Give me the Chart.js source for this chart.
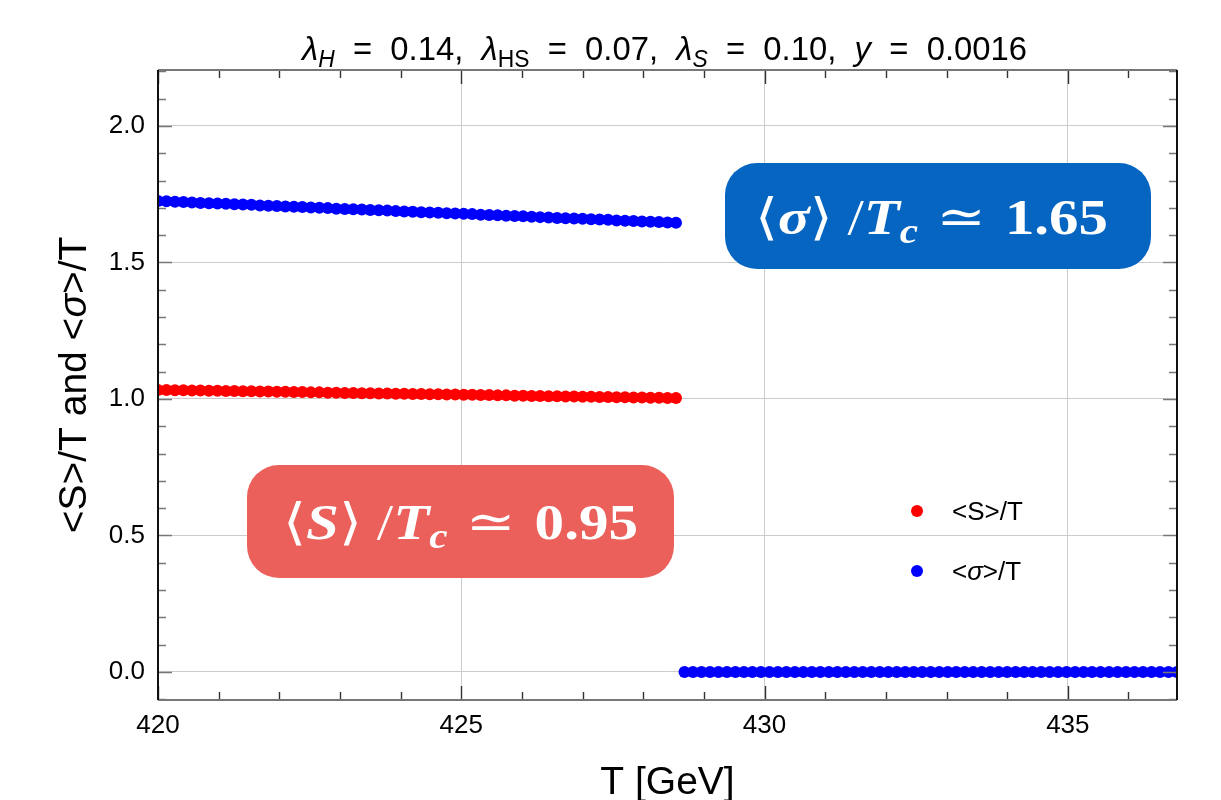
<!DOCTYPE html>
<html>
<head>
<meta charset="utf-8">
<script src="https://cdn.jsdelivr.net/npm/chart.js@4.4.1/dist/chart.umd.min.js"></script>
<style>
  html, body { margin: 0; padding: 0; background: #fff; }
  #wrap { width: 1221px; height: 800px; }
</style>
</head>
<body>
<div id="wrap"><canvas id="vev_chart" width="1221" height="800"></canvas></div>
<script>
// broken phase (T < Tc)
const tBroken = [
  420.00, 420.14, 420.28, 420.42, 420.56, 420.70, 420.84, 420.98, 421.12, 421.26,
  421.40, 421.54, 421.68, 421.82, 421.96, 422.10, 422.24, 422.38, 422.52, 422.66,
  422.80, 422.94, 423.08, 423.22, 423.36, 423.50, 423.64, 423.78, 423.92, 424.06,
  424.20, 424.34, 424.48, 424.62, 424.76, 424.90, 425.04, 425.18, 425.32, 425.46,
  425.60, 425.74, 425.88, 426.02, 426.16, 426.30, 426.44, 426.58, 426.72, 426.86,
  427.00, 427.14, 427.28, 427.42, 427.56, 427.70, 427.84, 427.98, 428.12, 428.26,
  428.40, 428.54
];
const sOverT = [
  1.033, 1.033, 1.032, 1.032, 1.031, 1.031, 1.030, 1.030, 1.029, 1.029,
  1.028, 1.028, 1.027, 1.027, 1.026, 1.026, 1.025, 1.025, 1.024, 1.024,
  1.023, 1.023, 1.022, 1.022, 1.021, 1.021, 1.020, 1.020, 1.019, 1.019,
  1.018, 1.018, 1.017, 1.017, 1.016, 1.016, 1.015, 1.015, 1.014, 1.014,
  1.013, 1.013, 1.012, 1.012, 1.011, 1.011, 1.010, 1.010, 1.009, 1.009,
  1.008, 1.008, 1.007, 1.007, 1.006, 1.006, 1.005, 1.005, 1.004, 1.004,
  1.003, 1.003
];
const sigmaOverT = [
  1.725, 1.724, 1.722, 1.721, 1.720, 1.718, 1.717, 1.716, 1.715, 1.713,
  1.712, 1.711, 1.709, 1.708, 1.707, 1.705, 1.704, 1.703, 1.701, 1.700,
  1.699, 1.697, 1.696, 1.695, 1.694, 1.692, 1.691, 1.690, 1.688, 1.687,
  1.686, 1.684, 1.683, 1.682, 1.680, 1.679, 1.678, 1.677, 1.675, 1.674,
  1.673, 1.671, 1.670, 1.669, 1.667, 1.666, 1.665, 1.663, 1.662, 1.661,
  1.660, 1.658, 1.657, 1.656, 1.654, 1.653, 1.652, 1.650, 1.649, 1.648,
  1.646, 1.645
];
// symmetric phase (T > Tc)
const tSymmetric = [
  428.68, 428.82, 428.96, 429.10, 429.24, 429.38, 429.52, 429.66, 429.80, 429.94,
  430.08, 430.22, 430.36, 430.50, 430.64, 430.78, 430.92, 431.06, 431.20, 431.34,
  431.48, 431.62, 431.76, 431.90, 432.04, 432.18, 432.32, 432.46, 432.60, 432.74,
  432.88, 433.02, 433.16, 433.30, 433.44, 433.58, 433.72, 433.86, 434.00, 434.14,
  434.28, 434.42, 434.56, 434.70, 434.84, 434.98, 435.12, 435.26, 435.40, 435.54,
  435.68, 435.82, 435.96, 436.10, 436.24, 436.38, 436.52, 436.66, 436.80
];
const vevSymmetric = [
  0, 0, 0, 0, 0, 0, 0, 0, 0, 0,
  0, 0, 0, 0, 0, 0, 0, 0, 0, 0,
  0, 0, 0, 0, 0, 0, 0, 0, 0, 0,
  0, 0, 0, 0, 0, 0, 0, 0, 0, 0,
  0, 0, 0, 0, 0, 0, 0, 0, 0, 0,
  0, 0, 0, 0, 0, 0, 0, 0, 0
];
const xTicks = [420, 425, 430, 435];
const yTicks = [0, 0.5, 1.0, 1.5, 2.0];

const RED = "#ff0000";
const BLUE = "#0000ff";

const toPoints = (xs, ys) => xs.map((x, i) => ({ x: x, y: ys[i] }));

// draw a row of text runs (mixed fonts), fitted to a target width
function drawRuns(ctx, runs, x0, baseline, targetW) {
  let w = 0;
  runs.forEach((r) => { ctx.font = r.font; r.w = ctx.measureText(r.text).width; w += r.w; });
  const sx = targetW ? targetW / w : 1;
  ctx.save();
  ctx.translate(x0, baseline);
  ctx.scale(sx, 1);
  let x = 0;
  runs.forEach((r) => {
    ctx.font = r.font;
    ctx.fillText(r.text, x, r.dy || 0);
    x += r.w;
  });
  ctx.restore();
}

function roundBox(ctx, x, y, w, h, r, color) {
  ctx.beginPath();
  ctx.moveTo(x + r, y);
  ctx.lineTo(x + w - r, y);
  ctx.arcTo(x + w, y, x + w, y + r, r);
  ctx.lineTo(x + w, y + h - r);
  ctx.arcTo(x + w, y + h, x + w - r, y + h, r);
  ctx.lineTo(x + r, y + h);
  ctx.arcTo(x, y + h, x, y + h - r, r);
  ctx.lineTo(x, y + r);
  ctx.arcTo(x, y, x + r, y, r);
  ctx.closePath();
  ctx.fillStyle = color;
  ctx.fill();
}

function mathRuns(symbolFont, symbol, value) {
  const S = 50;
  return [
    { text: "\u27E8", font: S + "px 'DejaVu Serif'" },
    { text: symbol, font: symbolFont },
    { text: "\u27E9", font: S + "px 'DejaVu Serif'" },
    { text: " /", font: S + "px 'Liberation Serif'" },
    { text: "T", font: "bold italic " + S + "px 'Liberation Serif'" },
    { text: "c", font: "bold italic 35px 'Liberation Serif'", dy: 9 },
    { text: " \u2243 ", font: S + "px 'DejaVu Serif'" },
    { text: value, font: "bold " + S + "px 'Liberation Serif'" },
  ];
}

const decorations = {
  id: "decorations",
  afterDraw(chart) {
    const ctx = chart.ctx;
    const ca = chart.chartArea;
    const xs = chart.scales.x;
    const ys = chart.scales.y;
    ctx.save();

    // minor / major ticks, pointing inwards
    ctx.lineWidth = 1.4;
    ctx.strokeStyle = "#333";
    ctx.beginPath();
    for (let v = 420; v <= 436; v++) {
      const px = Math.round(xs.getPixelForValue(v)) + 0.5;
      const len = v % 5 === 0 ? 14 : 8;
      ctx.moveTo(px, ca.bottom); ctx.lineTo(px, ca.bottom - len);
      ctx.moveTo(px, ca.top); ctx.lineTo(px, ca.top + len);
    }
    ctx.stroke();
    ctx.strokeStyle = "#777";
    ctx.beginPath();
    for (let k = -1; k <= 22; k++) {
      const py = Math.round(ys.getPixelForValue(k / 10)) + 0.5;
      if (py < ca.top || py > ca.bottom) continue;
      const len = k % 5 === 0 ? 14 : 8;
      ctx.moveTo(ca.left, py); ctx.lineTo(ca.left + len, py);
      ctx.moveTo(ca.right, py); ctx.lineTo(ca.right - len, py);
    }
    ctx.stroke();

    // frame
    ctx.lineWidth = 2;
    ctx.strokeStyle = "#777";
    ctx.beginPath();
    ctx.moveTo(ca.left, ca.bottom); ctx.lineTo(ca.right, ca.bottom);
    ctx.moveTo(ca.left, ca.top); ctx.lineTo(ca.right, ca.top);
    ctx.stroke();
    ctx.strokeStyle = "#111";
    ctx.beginPath();
    ctx.moveTo(ca.left, ca.top); ctx.lineTo(ca.left, ca.bottom);
    ctx.moveTo(ca.right, ca.top); ctx.lineTo(ca.right, ca.bottom);
    ctx.stroke();

    // title
    ctx.fillStyle = "#000";
    ctx.textBaseline = "alphabetic";
    const F = "33px 'Liberation Sans'";
    const FI = "italic 33px 'Liberation Sans'";
    const FS = "23px 'Liberation Sans'";
    const FSI = "italic 23px 'Liberation Sans'";
    drawRuns(ctx, [
      { text: "\u03BB", font: FI }, { text: "H", font: FSI, dy: 7 },
      { text: "  =  0.14,  ", font: F },
      { text: "\u03BB", font: FI }, { text: "HS", font: FS, dy: 7 },
      { text: "  =  0.07,  ", font: F },
      { text: "\u03BB", font: FI }, { text: "S", font: FSI, dy: 7 },
      { text: "  =  0.10,  ", font: F },
      { text: "y", font: FI },
      { text: "  =  0.0016", font: F },
    ], 302, 60, 725);

    // axis titles
    ctx.font = "39px 'Liberation Sans'";
    ctx.textAlign = "center";
    ctx.fillText("T [GeV]", (ca.left + ca.right) / 2, 794);
    ctx.textAlign = "left";
    ctx.save();
    ctx.translate(86, 0);
    ctx.rotate(-Math.PI / 2);
    const yRuns = [
      { text: "<S>/T and <", font: "39px 'Liberation Sans'" },
      { text: "\u03C3", font: "italic 39px 'Liberation Sans'" },
      { text: ">/T", font: "39px 'Liberation Sans'" },
    ];
    let yw = 0;
    yRuns.forEach((r) => { ctx.font = r.font; yw += ctx.measureText(r.text).width; });
    drawRuns(ctx, yRuns, -(ca.top + ca.bottom) / 2 - yw / 2, 0);
    ctx.restore();

    // legend
    const legend = [
      { color: RED, runs: [{ text: "<S>/T", font: "26px 'Liberation Sans'" }] },
      { color: BLUE, runs: [
        { text: "<", font: "26px 'Liberation Sans'" },
        { text: "\u03C3", font: "italic 26px 'Liberation Sans'" },
        { text: ">/T", font: "26px 'Liberation Sans'" }] },
    ];
    legend.forEach((item, i) => {
      const cy = 511 + i * 60;
      ctx.fillStyle = item.color;
      ctx.beginPath();
      ctx.arc(917, cy, 6, 0, Math.PI * 2);
      ctx.fill();
      ctx.fillStyle = "#000";
      drawRuns(ctx, item.runs, 952, cy + 9);
    });

    // annotation boxes
    roundBox(ctx, 725, 163, 426, 106, 32, "#0565c0");
    ctx.fillStyle = "#fff";
    drawRuns(ctx, mathRuns("bold italic 50px 'Liberation Serif'", "\u03C3", "1.65"), 755, 234, 353);

    roundBox(ctx, 247, 465, 427, 113, 32, "#eb605a");
    ctx.fillStyle = "#fff";
    drawRuns(ctx, mathRuns("bold italic 50px 'Liberation Serif'", "S", "0.95"), 283, 539, 355);

    ctx.restore();
  },
};

const ctx = document.getElementById("vev_chart").getContext("2d");

const configuration = {
  type: "scatter",
  data: {
    datasets: [
      {
        label: "<S>/T",
        data: toPoints(tBroken, sOverT),
        backgroundColor: RED,
        borderColor: RED,
        pointRadius: 6,
        borderWidth: 0,
        clip: 0,
      },
      {
        label: "<\u03C3>/T",
        data: toPoints(tBroken, sigmaOverT).concat(toPoints(tSymmetric, vevSymmetric)),
        backgroundColor: BLUE,
        borderColor: BLUE,
        pointRadius: 6,
        borderWidth: 0,
        clip: 0,
      },
    ],
  },
  options: {
    responsive: false,
    animation: false,
    layout: { padding: { left: 0, right: 44, top: 70, bottom: 0 } },
    plugins: {
      legend: { display: false },
      tooltip: { enabled: false },
      title: { display: false },
    },
    scales: {
      x: {
        type: "linear",
        min: 420,
        max: 436.8,
        afterBuildTicks: (s) => { s.ticks = xTicks.map((v) => ({ value: v })); },
        afterFit: (s) => { s.height = 100; },
        ticks: {
          color: "#000",
          padding: 10,
          maxRotation: 0,
          font: { family: "'Liberation Sans'", size: 26 },
          callback: (v) => String(v),
        },
        grid: { color: "#cccccc", lineWidth: 1, drawTicks: false },
        border: { display: false },
      },
      y: {
        type: "linear",
        min: -0.103,
        max: 2.205,
        afterBuildTicks: (s) => { s.ticks = yTicks.map((v) => ({ value: v })); },
        afterFit: (s) => { s.width = 158; },
        ticks: {
          color: "#000",
          padding: 13,
          font: { family: "'Liberation Sans'", size: 26 },
          callback: (v) => v.toFixed(1),
        },
        grid: { color: "#cccccc", lineWidth: 1, drawTicks: false },
        border: { display: false },
      },
    },
  },
  plugins: [decorations],
};

const chart = new Chart(ctx, configuration);
</script>
</body>
</html>
